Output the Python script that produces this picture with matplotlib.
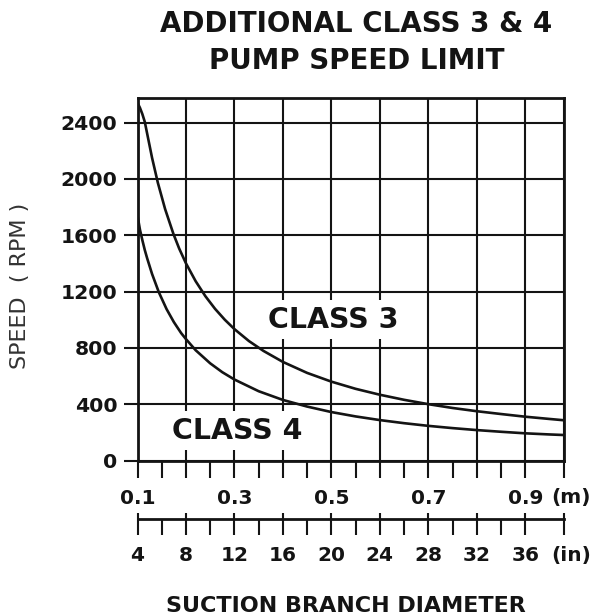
import matplotlib
matplotlib.use("Agg")
import matplotlib.pyplot as plt

# ---- data ----
diam_c3_m = [0.100, 0.105, 0.110, 0.115, 0.120, 0.130, 0.142, 0.157, 0.174, 0.186,
             0.200, 0.220, 0.240, 0.260, 0.280, 0.300, 0.330, 0.360, 0.400, 0.450,
             0.500, 0.550, 0.600, 0.650, 0.700, 0.750, 0.800, 0.850, 0.900, 0.950,
             0.979]
speed_c3 = [2540, 2505, 2460, 2405, 2320, 2150, 1972, 1785, 1610, 1505,
            1400, 1273, 1167, 1077, 1000, 933, 848, 778, 700, 622,
            560, 509, 467, 431, 400, 373, 350, 330, 311, 295,
            286]

diam_c4_m = [0.100, 0.105, 0.110, 0.115, 0.120, 0.130, 0.144, 0.160, 0.175, 0.190,
             0.200, 0.220, 0.250, 0.275, 0.300, 0.350, 0.400, 0.450, 0.500, 0.550,
             0.600, 0.650, 0.700, 0.750, 0.800, 0.850, 0.900, 0.950, 0.979]
speed_c4 = [1740, 1640, 1565, 1495, 1435, 1325, 1195, 1075, 983, 905,
            862, 783, 690, 627, 575, 492, 430, 383, 344, 313,
            287, 265, 246, 230, 216, 204, 193, 185, 181]

y_ticks = [0, 400, 800, 1200, 1600, 2000, 2400]
m_ticks = [0.1, 0.2, 0.3, 0.4, 0.5, 0.6, 0.7, 0.8, 0.9]
m_labels = ["0.1", "", "0.3", "", "0.5", "", "0.7", "", "0.9"]
m_minor = [0.15, 0.25, 0.35, 0.45, 0.55, 0.65, 0.75, 0.85]
in_ticks = [4, 8, 12, 16, 20, 24, 28, 32, 36]
in_labels = ["4", "8", "12", "16", "20", "24", "28", "32", "36"]
in_minor = [6, 10, 14, 18, 22, 26, 30, 34]

X_MIN, X_MAX = 0.1, 0.979
Y_MAX = 2574
M_PER_IN = 0.025

title_lines = ["ADDITIONAL CLASS 3 & 4", "PUMP SPEED LIMIT"]
ylabel = "SPEED  ( RPM )"
xlabel = "SUCTION BRANCH DIAMETER"

INK = "#141414"
W, H = 592, 616

fig = plt.figure(figsize=(W / 100, H / 100), dpi=100)
ax = fig.add_axes([137.5 / W, 1 - 460.5 / H, 426 / W, 362.5 / H])

ax.plot(diam_c3_m, speed_c3, color=INK, lw=1.9, zorder=3, solid_capstyle="round",
        solid_joinstyle="round")
ax.plot(diam_c4_m, speed_c4, color=INK, lw=1.9, zorder=3, solid_capstyle="round",
        solid_joinstyle="round")

ax.set_xlim(X_MIN, X_MAX)
ax.set_ylim(0, Y_MAX)

for s in ax.spines.values():
    s.set_linewidth(2.0)
    s.set_color(INK)

ax.set_xticks(m_ticks + [X_MAX])
ax.set_xticklabels(m_labels + [""])
ax.set_xticks(m_minor, minor=True)
ax.set_yticks(y_ticks)
ax.set_yticklabels([str(v) for v in y_ticks])

ax.grid(True, which="major", color=INK, lw=1.5)
ax.set_axisbelow(True)

ax.tick_params(axis="x", which="both", direction="out", length=12, width=1.5,
               color=INK, labelsize=14.5, pad=8.5)
ax.tick_params(axis="y", which="major", direction="out", length=10, width=1.5,
               color=INK, labelsize=14.7, pad=4.5)
for lab in ax.get_xticklabels() + ax.get_yticklabels():
    lab.set_fontweight("bold")
    lab.set_color(INK)

# inch scale
loc = -(519.3 - 460.5) / 362.5
fwd = (lambda x: x / M_PER_IN, lambda x: x * M_PER_IN)
sec = ax.secondary_xaxis(loc, functions=fwd)
sec.set_xticks(in_ticks + [X_MAX / M_PER_IN])
sec.set_xticklabels(in_labels + [""])
sec.set_xticks(in_minor, minor=True)
sec.tick_params(which="both", direction="out", length=11.5, width=1.5, color=INK,
                labelsize=14.5, pad=8)
sec.spines["bottom"].set_linewidth(2.0)
sec.spines["bottom"].set_color(INK)
for lab in sec.get_xticklabels():
    lab.set_fontweight("bold")
    lab.set_color(INK)

sec2 = ax.secondary_xaxis(loc, functions=fwd)
sec2.set_xticks(in_ticks + [X_MAX / M_PER_IN])
sec2.set_xticklabels([""] * (len(in_ticks) + 1))
sec2.tick_params(which="major", direction="in", length=4, width=1.5, color=INK)
sec2.spines["bottom"].set_visible(False)

# curve labels
box = dict(facecolor="white", edgecolor="none", pad=4)
ax.text(0.503, 1000, "CLASS 3", ha="center", va="center", fontsize=20.5,
        fontweight="bold", color=INK, bbox=box, zorder=4)
ax.text(0.306, 211, "CLASS 4", ha="center", va="center", fontsize=20.5,
        fontweight="bold", color=INK, bbox=box, zorder=4)

# unit labels
fig.text(571 / W, 1 - 497.5 / H, "(m)", ha="center", va="center", fontsize=14.5,
         fontweight="bold", color=INK)
fig.text(571 / W, 1 - 555 / H, "(in)", ha="center", va="center", fontsize=14.5,
         fontweight="bold", color=INK)

# titles and axis labels
fig.text(356.5 / W, 1 - 24 / H, title_lines[0], ha="center", va="center",
         fontsize=20, fontweight="bold", color=INK)
fig.text(356.5 / W, 1 - 61 / H, title_lines[1], ha="center", va="center",
         fontsize=20, fontweight="bold", color=INK)
fig.text(20 / W, 1 - 286 / H, ylabel, rotation=90, ha="center", va="center",
         fontsize=16, color="#333333")
fig.text(345.8 / W, 1 - 606 / H, xlabel, ha="center", va="center",
         fontsize=16, fontweight="bold", color=INK)

fig.savefig("out.png", dpi=100, facecolor="white")
